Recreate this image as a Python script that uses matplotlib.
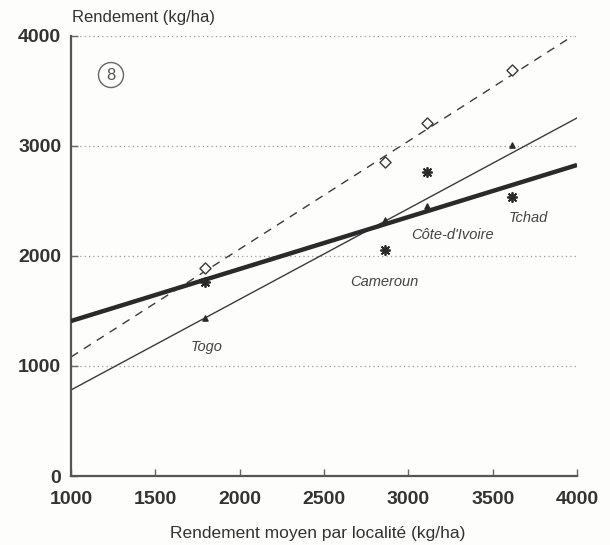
import numpy as np
import matplotlib
matplotlib.use("Agg")
import matplotlib.pyplot as plt

plt.rcParams['font.family'] = ['Liberation Sans', 'DejaVu Sans']

# locality mean yield (x) for the four sites
countries = ["Togo", "Cameroun", "Côte-d'Ivoire", "Tchad"]
x_sites = [1793, 2864, 3112, 3615]

# yields of the three cultivars at each site
y_diamond = [1890, 2855, 3210, 3690]
y_star = [1765, 2055, 2765, 2535]
y_dot = [1435, 2330, 2455, 3010]

# fitted regression lines (value at x=1000 and x=4000)
fit_x = [1000, 4000]
fit_dashed = [1082, 4025]
fit_thin = [782, 3255]
fit_thick = [1409, 2827]

label_pos = {
    "Togo": (1805, 1170),
    "Cameroun": (2858, 1760),
    "Côte-d'Ivoire": (3262, 2190),
    "Tchad": (3710, 2345),
}

ink = '#3a3a3a'

fig = plt.figure(figsize=(6.1, 5.45), dpi=100)
fig.patch.set_facecolor('#fdfdfb')
ax = fig.add_axes([0.1164, 0.1266, 0.8296, 0.8074])
ax.set_facecolor('#fdfdfb')

ax.set_xlim(1000, 4000)
ax.set_ylim(0, 4000)

# dotted grid lines
for gy in [1000, 2000, 3000, 4000]:
    ax.axhline(gy, color='#9a9a9a', lw=0.9, ls=(0, (1, 2.5)), zorder=0)

ax.plot(fit_x, fit_dashed, color=ink, lw=1.0, ls=(0, (6, 5)), zorder=2)
ax.plot(fit_x, fit_thin, color=ink, lw=1.0, zorder=2)
ax.plot(fit_x, fit_thick, color='#2a2a2a', lw=3.2, solid_capstyle='butt', zorder=3)

ax.scatter(x_sites, y_diamond, marker='D', s=32, facecolors='#fdfdfb',
           edgecolors=ink, linewidths=1.0, zorder=4)
ax.scatter(x_sites, y_star, marker=(8, 2, 0), s=45, color='#2a2a2a',
           linewidths=1.3, zorder=4)
ax.scatter(x_sites, y_dot, marker='^', s=14, color='#2a2a2a', zorder=4)

for name in countries:
    lx, ly = label_pos[name]
    ax.text(lx, ly, name, style='italic', fontsize=10.5, color='#444444',
            ha='center', va='center')

# circled panel number
ax.text(1237, 3645, '8', fontsize=12, color='#555555', ha='center', va='center',
        bbox=dict(boxstyle='circle,pad=0.3', fc='none', ec='#666666', lw=1.0))

for side in ['top', 'right']:
    ax.spines[side].set_visible(False)
for side in ['left', 'bottom']:
    ax.spines[side].set_color('#555555')
    ax.spines[side].set_linewidth(1.6)

ax.set_xticks(np.arange(1000, 4001, 500))
ax.set_yticks(np.arange(0, 4001, 1000))
ax.tick_params(direction='in', length=5, width=1.0, color='#666666',
               labelsize=14, labelcolor='#333333')
ax.tick_params(axis='x', pad=11)
ax.tick_params(axis='y', pad=7)
for lab in ax.get_xticklabels() + ax.get_yticklabels():
    lab.set_fontweight('bold')

fig.text(0.118, 0.968, 'Rendement (kg/ha)', fontsize=12, color='#333333',
         ha='left', va='center')
fig.text(0.52, 0.022, 'Rendement moyen par localité (kg/ha)', fontsize=12.5,
         color='#333333', ha='center', va='center')

fig.savefig('out.png', dpi=100, facecolor=fig.get_facecolor())
